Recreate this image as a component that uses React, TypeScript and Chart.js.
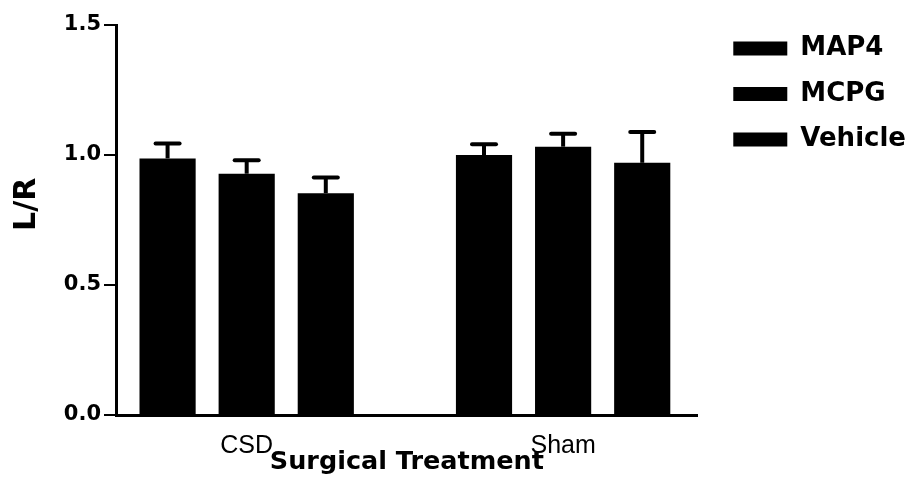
import React, { useEffect, useRef } from "react";
import { Chart, registerables } from "chart.js";

Chart.register(...registerables);

const categories = ["CSD", "Sham"];
const seriesNames = ["MAP4", "MCPG", "Vehicle"];
const map4Values = [0.987, 1.0];
const mcpgValues = [0.928, 1.032];
const vehicleValues = [0.853, 0.97];
const map4Errors = [0.057, 0.041];
const mcpgErrors = [0.052, 0.05];
const vehicleErrors = [0.06, 0.118];
const yTickValues = [0, 0.5, 1.0, 1.5];

const seriesValues = [map4Values, mcpgValues, vehicleValues];
const seriesErrors = [map4Errors, mcpgErrors, vehicleErrors];

const errorBarPlugin = {
  id: "errorBars",
  afterDatasetsDraw(chart: any) {
    const ctx = chart.ctx;
    const yScale = chart.scales.y;
    chart.data.datasets.forEach((ds: any, di: number) => {
      const meta = chart.getDatasetMeta(di);
      meta.data.forEach((bar: any, i: number) => {
        const v = ds.data[i].y;
        const top = yScale.getPixelForValue(v + ds.errors[i]);
        ctx.save();
        ctx.strokeStyle = "#000";
        ctx.lineWidth = 4;
        ctx.beginPath();
        ctx.moveTo(bar.x, bar.y);
        ctx.lineTo(bar.x, top);
        ctx.stroke();
        ctx.lineCap = "round";
        ctx.beginPath();
        ctx.moveTo(bar.x - 12, top);
        ctx.lineTo(bar.x + 12, top);
        ctx.stroke();
        ctx.restore();
      });
    });
  },
};

const legendShiftPlugin = {
  id: "legendShift",
  afterLayout(chart: any) {
    const lg = chart.legend;
    if (!lg) return;
    const w = lg.width;
    const h = lg.height;
    lg.left = chart.chartArea.right + 16;
    lg.right = lg.left + w;
    lg.top = chart.chartArea.top - 9;
    lg.bottom = lg.top + h;
  },
};

export default function App() {
  const canvasRef = useRef<HTMLCanvasElement | null>(null);

  useEffect(() => {
    if (!canvasRef.current) return;
    const chart = new Chart(canvasRef.current, {
      type: "bar",
      data: {
        datasets: seriesNames.map((name, si) => ({
          label: name,
          data: seriesValues[si].map((v, i) => ({ x: i, y: v })),
          errors: seriesErrors[si],
          backgroundColor: "#000",
          borderWidth: 0,
          categoryPercentage: 0.75,
          barPercentage: 0.71,
        })) as any,
      },
      options: {
        animation: false,
        responsive: true,
        maintainAspectRatio: false,
        layout: { padding: { top: 25, left: 0, right: 9, bottom: 0 } },
        plugins: {
          tooltip: { enabled: false },
          legend: {
            position: "right",
            align: "start",
            labels: {
              boxWidth: 54,
              boxHeight: 14,
              padding: 19.5,
              color: "#000",
              font: { family: "DejaVu Sans", size: 26, weight: "bold" },
            },
          },
        },
        scales: {
          x: {
            type: "linear",
            offset: false,
            min: -0.413,
            max: 1.4256,
            afterBuildTicks: (scale: any) => {
              scale.ticks = categories.map((_, i) => ({ value: i }));
            },
            afterFit: (scale: any) => {
              scale.height = 87;
            },
            ticks: {
              callback: (v: any) => categories[v] ?? "",
              color: "#000",
              padding: 16,
              maxRotation: 0,
              font: { family: "Liberation Sans", size: 25 },
            },
            grid: { display: false, drawTicks: false },
            border: { display: true, color: "#000", width: 3 },
            title: {
              display: true,
              text: "Surgical Treatment",
              color: "#000",
              padding: { top: 0, bottom: 24 },
              font: { family: "DejaVu Sans", size: 25.5, weight: "bold" },
            },
          },
          y: {
            min: 0,
            max: 1.5,
            afterBuildTicks: (scale: any) => {
              scale.ticks = yTickValues.map((v) => ({ value: v }));
            },
            afterFit: (scale: any) => {
              scale.width = 116;
            },
            ticks: {
              callback: (v: any) => Number(v).toFixed(1),
              color: "#000",
              padding: 3,
              font: { family: "DejaVu Sans", size: 21, weight: "bold" },
            },
            grid: {
              drawOnChartArea: false,
              drawTicks: true,
              tickLength: 12,
              lineWidth: 2,
              color: "#000",
            },
            border: { display: true, color: "#000", width: 3 },
            title: {
              display: true,
              text: "   L/R",
              color: "#000",
              padding: { top: 9, bottom: 0 },
              font: { family: "DejaVu Sans", size: 30, weight: "bold" },
            },
          },
        },
      } as any,
      plugins: [errorBarPlugin, legendShiftPlugin],
    });
    return () => chart.destroy();
  }, []);

  return (
    <div style={{ position: "fixed", left: 0, top: 0, width: 909, height: 502, background: "#fff" }}>
      <canvas ref={canvasRef} />
    </div>
  );
}
